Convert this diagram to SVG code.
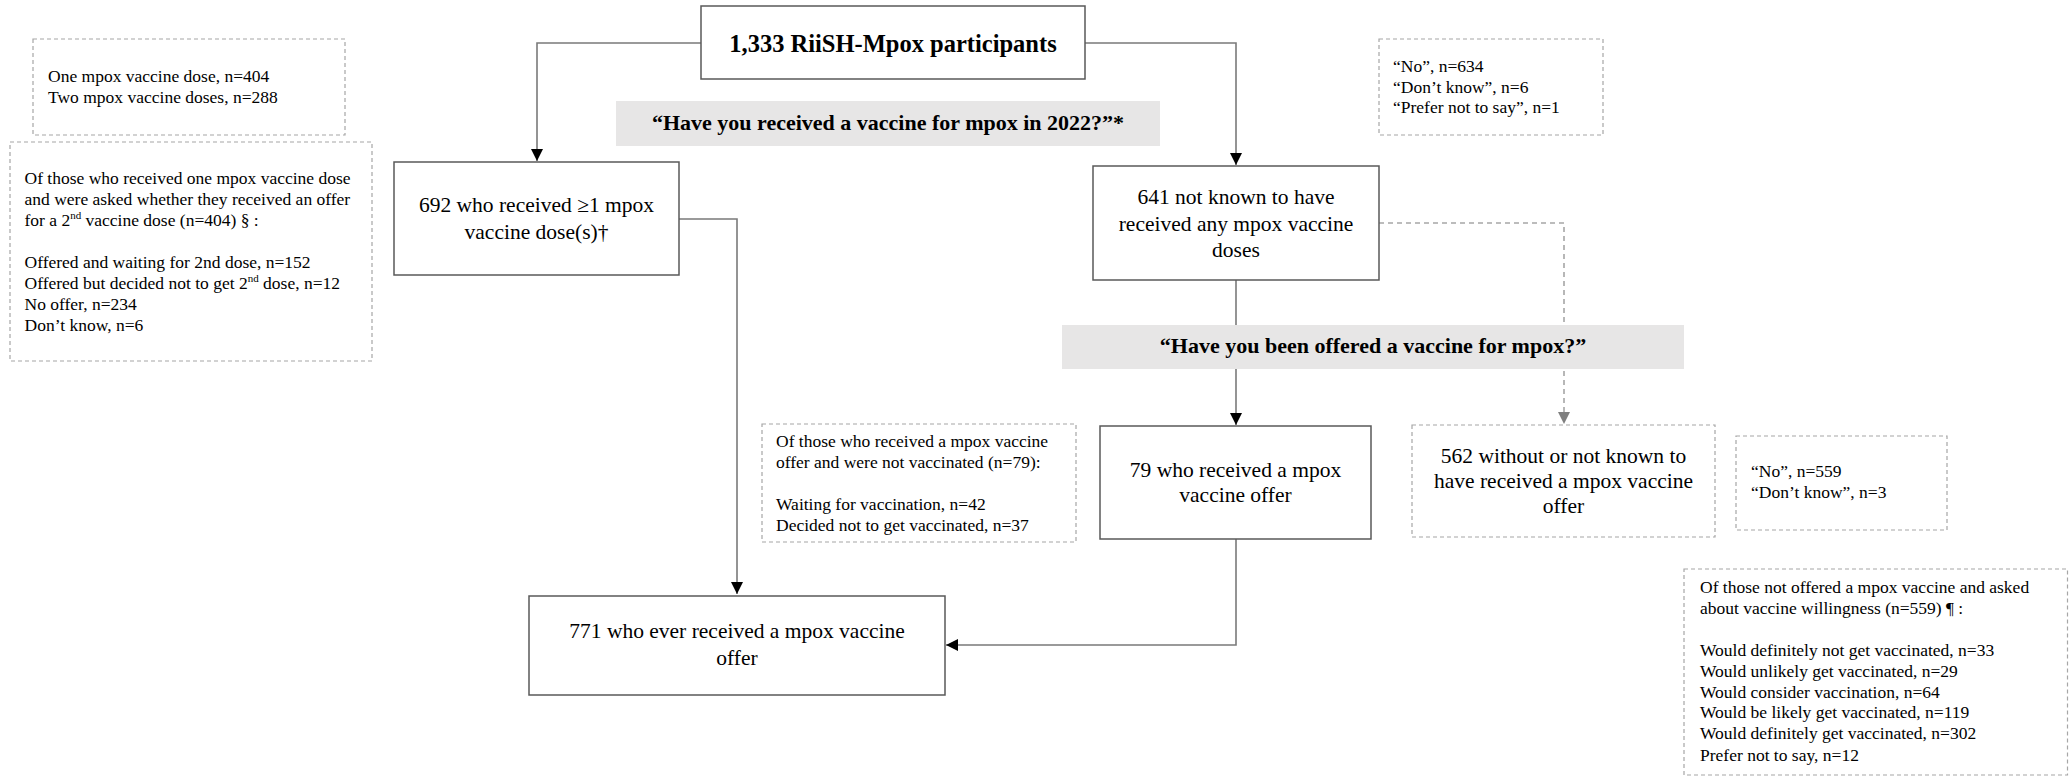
<svg xmlns="http://www.w3.org/2000/svg" width="2069" height="776" viewBox="0 0 2069 776">
<style>
.node{fill:#fff;stroke:#595959;stroke-width:1.5}
.note{fill:#fff;stroke:#a6a6a6;stroke-width:1.2;stroke-dasharray:4 3}
.band{fill:#e7e6e6;stroke:none}
.conn{fill:none;stroke:#7a7a7a;stroke-width:1.6}
.dconn{fill:none;stroke:#a6a6a6;stroke-width:1.6;stroke-dasharray:5 4}
text{font-family:"Liberation Serif","Times New Roman",serif;fill:#000}
.nt{font-size:17.5px}
.nd{font-size:21.5px;text-anchor:middle}
.bt{font-size:22px;font-weight:bold;text-anchor:middle}
.tt{font-size:24.5px;font-weight:bold;text-anchor:middle}
.sup{font-size:11px}
</style>
<defs>
<marker id="ah" markerWidth="12" markerHeight="12" viewBox="0 0 12 12" refX="12" refY="6" orient="auto" markerUnits="userSpaceOnUse">
<path d="M0,0 L12,6 L0,12 Z" fill="#000"/>
</marker>
<marker id="ahg" markerWidth="12" markerHeight="12" viewBox="0 0 12 12" refX="12" refY="6" orient="auto" markerUnits="userSpaceOnUse">
<path d="M0,0 L12,6 L0,12 Z" fill="#7f7f7f"/>
</marker>
</defs>

<g id="connectors">
<path class="conn" d="M701,43 H537 V161" marker-end="url(#ah)"/>
<path class="conn" d="M1085,43 H1236 V165" marker-end="url(#ah)"/>
<path class="conn" d="M679,219 H737 V594" marker-end="url(#ah)"/>
<path class="conn" d="M1236,280 V425" marker-end="url(#ah)"/>
<path class="conn" d="M1236,539 V645 H946" marker-end="url(#ah)"/>
<path class="dconn" d="M1379,223 H1564 V424" marker-end="url(#ahg)"/>
</g>

<g id="band1">
<rect class="band" x="616" y="101" width="544" height="45"/>
<text class="bt" x="888" y="130">“Have you received a vaccine for mpox in 2022?”*</text>
</g>
<g id="band2">
<rect class="band" x="1062" y="325" width="622" height="44"/>
<text class="bt" x="1373" y="353">“Have you been offered a vaccine for mpox?”</text>
</g>

<g id="n-total">
<rect class="node" x="701" y="6" width="384" height="73"/>
<text class="tt" x="893" y="52">1,333 RiiSH-Mpox participants</text>
</g>

<g id="note-doses">
<rect class="note" x="33" y="39" width="312" height="96"/>
<text class="nt" x="48" y="82">One mpox vaccine dose, n=404</text>
<text class="nt" x="48" y="103">Two mpox vaccine doses, n=288</text>
</g>

<g id="note-second">
<rect class="note" x="10" y="142" width="362" height="219"/>
<text class="nt" x="24.5" y="184">Of those who received one mpox vaccine dose</text>
<text class="nt" x="24.5" y="205">and were asked whether they received an offer</text>
<text class="nt" x="24.5" y="226">for a 2<tspan class="sup" dy="-7">nd</tspan><tspan dy="7"> vaccine dose (n=404) § :</tspan></text>
<text class="nt" x="24.5" y="268">Offered and waiting for 2nd dose, n=152</text>
<text class="nt" x="24.5" y="289">Offered but decided not to get 2<tspan class="sup" dy="-7">nd</tspan><tspan dy="7"> dose, n=12</tspan></text>
<text class="nt" x="24.5" y="310">No offer, n=234</text>
<text class="nt" x="24.5" y="331">Don’t know, n=6</text>
</g>

<g id="n-692">
<rect class="node" x="394" y="162" width="285" height="113"/>
<text class="nd" x="536.5" y="212">692 who received ≥1 mpox</text>
<text class="nd" x="536.5" y="239">vaccine dose(s)†</text>
</g>

<g id="n-641">
<rect class="node" x="1093" y="166" width="286" height="114"/>
<text class="nd" x="1236" y="204">641 not known to have</text>
<text class="nd" x="1236" y="231">received any mpox vaccine</text>
<text class="nd" x="1236" y="257">doses</text>
</g>

<g id="note-no634">
<rect class="note" x="1379" y="39" width="224" height="96"/>
<text class="nt" x="1393" y="72">“No”, n=634</text>
<text class="nt" x="1393" y="93">“Don’t know”, n=6</text>
<text class="nt" x="1393" y="113">“Prefer not to say”, n=1</text>
</g>

<g id="note-offer">
<rect class="note" x="762" y="424" width="314" height="118"/>
<text class="nt" x="776" y="447">Of those who received a mpox vaccine</text>
<text class="nt" x="776" y="468">offer and were not vaccinated (n=79):</text>
<text class="nt" x="776" y="510">Waiting for vaccination, n=42</text>
<text class="nt" x="776" y="531">Decided not to get vaccinated, n=37</text>
</g>

<g id="n-79">
<rect class="node" x="1100" y="426" width="271" height="113"/>
<text class="nd" x="1235.5" y="477">79 who received a mpox</text>
<text class="nd" x="1235.5" y="502">vaccine offer</text>
</g>

<g id="n-562">
<rect class="note" x="1412" y="425" width="303" height="112"/>
<text class="nd" x="1563.5" y="463">562 without or not known to</text>
<text class="nd" x="1563.5" y="488">have received a mpox vaccine</text>
<text class="nd" x="1563.5" y="513">offer</text>
</g>

<g id="note-no559">
<rect class="note" x="1736" y="436" width="211" height="94"/>
<text class="nt" x="1751" y="477">“No”, n=559</text>
<text class="nt" x="1751" y="498">“Don’t know”, n=3</text>
</g>

<g id="note-willing">
<rect class="note" x="1684" y="569" width="383.5" height="206"/>
<text class="nt" x="1700" y="593">Of those not offered a mpox vaccine and asked</text>
<text class="nt" x="1700" y="614">about vaccine willingness (n=559) ¶ :</text>
<text class="nt" x="1700" y="656">Would definitely not get vaccinated, n=33</text>
<text class="nt" x="1700" y="677">Would unlikely get vaccinated, n=29</text>
<text class="nt" x="1700" y="698">Would consider vaccination, n=64</text>
<text class="nt" x="1700" y="718">Would be likely get vaccinated, n=119</text>
<text class="nt" x="1700" y="739">Would definitely get vaccinated, n=302</text>
<text class="nt" x="1700" y="761">Prefer not to say, n=12</text>
</g>

<g id="n-771">
<rect class="node" x="529" y="596" width="416" height="99"/>
<text class="nd" x="737" y="638">771 who ever received a mpox vaccine</text>
<text class="nd" x="737" y="665">offer</text>
</g>
</svg>
